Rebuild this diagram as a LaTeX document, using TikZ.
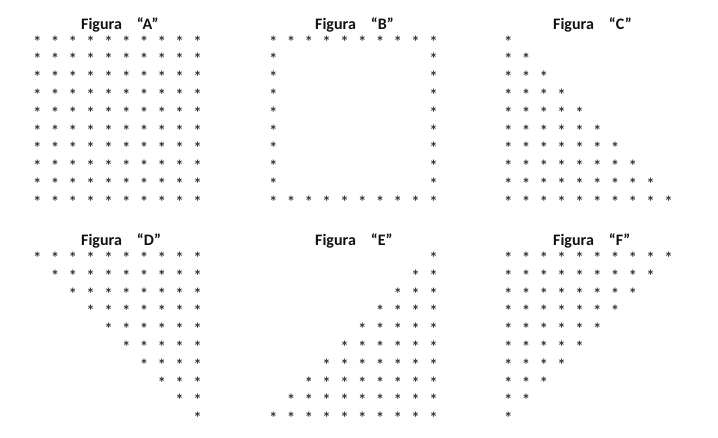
\documentclass[tikz,border=0pt]{standalone}
\usepackage{fontspec}
\setmainfont{Carlito}
\definecolor{starcol}{HTML}{333333}
\definecolor{titlecol}{HTML}{111111}
\newcommand\drawgrid[4]{%
  \foreach \r in {0,...,9}{%
    \foreach \c in {0,...,9}{%
      \pgfmathtruncatemacro\ok{#4}%
      \ifnum\ok=1
        \node[starnode] (#1-\r-\c) at ({#2+17.8*\c},{#3+17.8*\r+8}) {*};
      \fi
    }%
  }%
}
\begin{document}
\begin{tikzpicture}[x=1pt,y=-1pt,
  starnode/.style={font=\fontsize{16}{16}\selectfont\bfseries, text=starcol, inner sep=0pt, anchor=base},
  titlenode/.style={font=\fontsize{16}{16}\selectfont\bfseries, text=titlecol, inner sep=0pt, anchor=base west}]
\useasboundingbox[fill=white] (0,0) rectangle (718,437);
% titles
\node[titlenode] (tA) at (81,29) {Figura\hspace{15pt}“A”};
\node[titlenode] (tB) at (315,29) {Figura\hspace{15pt}“B”};
\node[titlenode] (tC) at (553,29) {Figura\hspace{15pt}“C”};
\node[titlenode] (tD) at (81,245.5) {Figura\hspace{15pt}“D”};
\node[titlenode] (tE) at (315,245.5) {Figura\hspace{15pt}“E”};
\node[titlenode] (tF) at (553,245.5) {Figura\hspace{15pt}“F”};
% grids
\drawgrid{A}{37.3}{39}{1}
\drawgrid{B}{273.3}{39}{(\r==0)||(\r==9)||(\c==0)||(\c==9)}
\drawgrid{C}{508.3}{39}{\c<=\r}
\drawgrid{D}{37.3}{255.5}{\c>=\r}
\drawgrid{E}{273.3}{255.5}{(\c+\r)>=9}
\drawgrid{F}{508.3}{255.5}{(\c+\r)<=9}
\end{tikzpicture}
\end{document}
